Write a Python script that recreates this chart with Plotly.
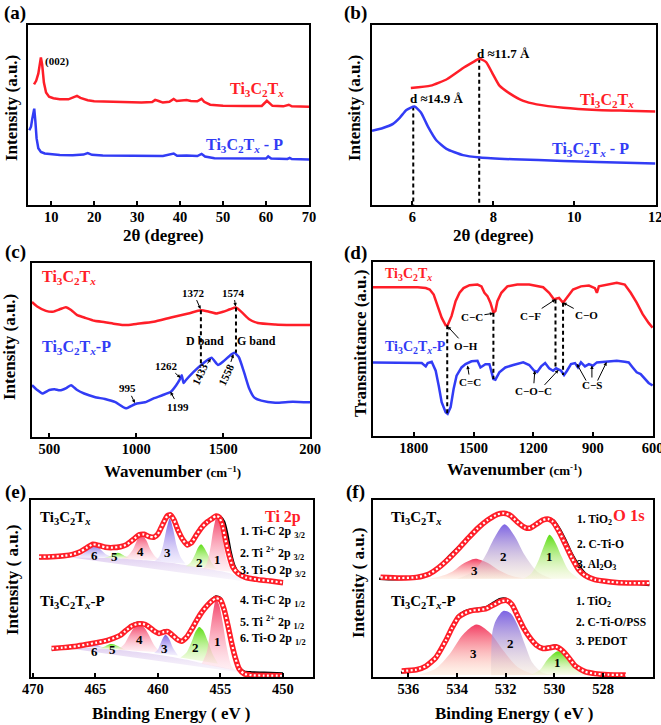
import plotly.graph_objects as go

W, H = 661, 725
FONT = "Liberation Serif"
RED = "rgb(255,30,40)"
BLUE = "rgb(50,60,245)"
TI = "Ti<sub>3</sub>C<sub>2</sub>T<sub><i>x</i></sub>"

# ---------------- (a) XRD, wide range: (2theta, intensity) ----------------
xrd_red = [(6.0, 67), (6.5, 69), (7.0, 73), (7.3, 78), (7.6, 82), (7.9, 78), (8.3, 68), (8.8, 62.5),
           (9.5, 60.2), (10.5, 59.3), (12, 58.8), (14, 58.7), (15.3, 59.8), (16.0, 60.6), (16.8, 59.5),
           (18.5, 58.2), (20, 57.7), (22, 57.5), (25, 57.3), (28, 57.2), (31, 57.0), (33.5, 57.2),
           (34.2, 58.4), (35, 57.8), (36, 56.9), (37.5, 57.3), (38.5, 58.9), (39.2, 57.8), (40, 58.1),
           (41.5, 58.3), (42.5, 57.8), (44, 57.6), (45, 59.0), (45.6, 57.3), (47, 55.7), (50, 55.2),
           (55, 55.0), (59, 55.0), (60.2, 57.9), (60.7, 57.0), (61.5, 55.1), (64, 54.8), (65.3, 55.7),
           (66, 54.8), (68, 54.6), (70, 54.6)]
xrd_blue = [(4.9, 41.5), (5.3, 43.5), (5.6, 48), (5.85, 53), (6.05, 53.5), (6.3, 47), (6.6, 37), (7.0, 31.5),
            (7.6, 29.5), (8.5, 28.6), (10, 28.1), (12, 27.8), (15, 27.7), (17.5, 28.0), (18.5, 28.9),
            (19.5, 27.9), (22, 27.5), (25, 27.4), (30, 27.1), (34, 27.0), (36, 27.2), (38.5, 28.6),
            (39.3, 27.3), (41.5, 27.5), (44, 27.2), (45, 28.4), (45.8, 26.9), (48, 26.0), (55, 25.7),
            (60, 25.8), (60.5, 27.0), (61.2, 25.8), (65, 25.6), (65.5, 26.2), (66, 25.5), (70, 25.3)]

# ---------------- (b) XRD, low angle ----------------
lowxrd_red = [(5.96, 65), (6.45, 66.3), (6.86, 70), (7.28, 76.5), (7.53, 79.8), (7.65, 81.3), (7.82, 79.4),
              (7.99, 72.6), (8.15, 66.3), (8.4, 62), (8.74, 57.8), (9.07, 55.9), (9.73, 54), (10.56, 52.8),
              (11.3, 52.4), (12, 52)]
lowxrd_blue = [(5.0, 41.2), (5.27, 42.8), (5.52, 45.1), (5.69, 48.6), (5.85, 52.8), (6.05, 54.7), (6.21, 51.4),
               (6.38, 43.7), (6.59, 36), (6.84, 31.2), (7.25, 27.7), (7.67, 26.4), (8.49, 25.4), (9.73, 24.5),
               (10.56, 23.9), (12, 23.1)]
d_peaks = [6.02, 7.65]           # 2theta of dashed guides
d_peak_tops = [54.7, 81.3]

# ---------------- (c) Raman ----------------
raman_red = [(400, 77.6), (430, 75), (480, 72.5), (520, 72), (560, 73.4), (595, 74.6), (625, 73), (660, 70),
             (700, 68.7), (760, 66.8), (820, 66), (880, 65), (940, 64.3), (1000, 65), (1100, 66.2),
             (1200, 68.7), (1300, 71), (1372, 72.9), (1420, 72), (1460, 71), (1500, 72), (1540, 73.4),
             (1574, 74.4), (1610, 71.5), (1650, 67.7), (1700, 65.5), (1800, 64.7), (1900, 64.4), (2000, 64.3)]
raman_blue = [(400, 29.8), (430, 27), (460, 25), (500, 27), (530, 27.5), (560, 26.8), (600, 28.3), (625, 29.8),
              (660, 27), (700, 25), (760, 23), (820, 21.8), (880, 20), (940, 16.5), (995, 19), (1050, 20),
              (1100, 22.2), (1150, 24), (1199, 26), (1230, 29.8), (1250, 33), (1262, 35.5), (1272, 31),
              (1285, 32.6), (1330, 37.4), (1380, 42), (1433, 45.5), (1470, 41.4), (1500, 43.4), (1540, 46.9),
              (1565, 48.4), (1590, 46), (1620, 37.4), (1650, 27.9), (1680, 22.6), (1720, 20.9), (1800, 19.7),
              (1900, 20.3), (2000, 19.9)]
raman_guides = [(1372, 72.9, 42.0), (1574, 74.4, 48.4)]

# ---------------- (d) FTIR ----------------
ftir_red = [(2005, 85.5), (1900, 85.5), (1780, 85.5), (1740, 85), (1720, 84.2), (1700, 81.3), (1680, 74.7),
            (1660, 68), (1640, 63.6), (1630, 63.6), (1610, 69), (1590, 77.5), (1570, 82.3), (1550, 85),
            (1520, 86.7), (1480, 87), (1460, 86), (1445, 82.3), (1430, 80.4), (1415, 76.6), (1400, 70.9),
            (1390, 71.8), (1380, 77.5), (1360, 82.3), (1330, 86), (1280, 87), (1220, 87), (1180, 86),
            (1150, 85.5), (1120, 82.3), (1095, 78.5), (1085, 78.9), (1070, 79.4), (1050, 76.6), (1030, 79.4),
            (1000, 84.2), (960, 86), (920, 86.5), (890, 85), (880, 82.3), (870, 86), (820, 87), (780, 88),
            (740, 87), (710, 82.3), (680, 76.6), (650, 70), (620, 65), (600, 62.3)]
ftir_blue = [(2005, 42.3), (1780, 42.3), (1760, 41.9), (1740, 40), (1730, 41.9), (1710, 42.7), (1690, 37.5),
             (1675, 29), (1660, 19.4), (1640, 13.7), (1630, 12.8), (1615, 16.6), (1600, 27), (1585, 34.7),
             (1560, 39.4), (1540, 41.3), (1510, 42.9), (1480, 43.2), (1465, 39.4), (1440, 41.3), (1420, 41.3),
             (1400, 32.8), (1390, 32.4), (1370, 36.6), (1340, 39.4), (1300, 40.8), (1250, 42.3), (1220, 40.8),
             (1195, 37.5), (1180, 36.8), (1160, 40), (1140, 41.9), (1120, 38.9), (1100, 37.5), (1085, 38.9),
             (1060, 37.5), (1045, 35), (1030, 37.5), (1010, 41.3), (990, 41.9), (975, 39.4), (960, 42.3),
             (940, 40), (920, 41.3), (900, 40.4), (880, 42.3), (840, 42.7), (780, 43.2), (740, 42.7),
             (720, 42.3), (700, 39.4), (680, 36.6), (660, 35.6), (640, 32.8), (620, 30.5), (600, 29)]
ftir_guides = [(1632, 63.6, 12.8), (1400, 70.9, 32.8), (1088, 78.5, 38.5), (1050, 76.6, 35.0)]

# ---------------- (e) XPS Ti 2p ----------------
ti_top_fit = [(469.5, 67.8), (468.5, 68.0), (467.5, 68.5), (466.8, 69.3), (466.2, 70.8), (465.7, 73.0),
              (465.2, 75.0), (464.7, 74.3), (464.2, 73.3), (463.6, 73.1), (463.0, 73.6), (462.5, 74.8),
              (462.0, 77.5), (461.5, 80.3), (461.1, 80.6), (460.7, 79.3), (460.3, 79.0), (460.0, 80.8),
              (459.6, 86.5), (459.25, 91.0), (459.0, 91.6), (458.7, 88.5), (458.4, 83.0), (458.0, 77.5),
              (457.65, 74.6), (457.3, 76.0), (456.9, 80.5), (456.5, 84.5), (456.1, 87.3), (455.7, 89.3),
              (455.35, 91.0), (455.1, 90.3), (454.85, 86.0), (454.6, 77.5), (454.3, 68.5), (454.0, 62.0),
              (453.6, 58.5), (453.0, 56.3), (452.0, 55.0), (451.0, 54.2), (450.0, 53.3)]
ti_top_exp = [(469.5, 67.2), (468.5, 67.6), (467.5, 68.3), (466.8, 69.2), (466.2, 71.0), (465.7, 73.4),
              (465.2, 75.4), (464.7, 74.6), (464.2, 73.6), (463.6, 73.5), (463.0, 74.0), (462.5, 75.3),
              (462.0, 78.2), (461.5, 80.8), (461.1, 80.9), (460.7, 79.8), (460.3, 79.4), (460.0, 81.2),
              (459.6, 87.2), (459.25, 91.4), (459.0, 91.9), (458.7, 89.0), (458.4, 83.8), (458.0, 78.0),
              (457.65, 75.2), (457.3, 76.6), (456.9, 81.2), (456.5, 85.3), (456.1, 88.0), (455.7, 89.8),
              (455.35, 91.3), (455.0, 90.6), (454.7, 87.5), (454.45, 80.5), (454.2, 71.0), (453.9, 63.0),
              (453.5, 58.2), (453.0, 56.0), (452.0, 54.6), (451.0, 53.9), (450.0, 53.0)]
ti_top_haze_up = [(466.8, 67.6), (465.0, 67.4), (463.0, 67.0), (461.5, 66.2), (460.0, 65.2), (458.5, 64.0),
                  (457.0, 62.3), (455.5, 60.5), (454.3, 58.8), (453.3, 55.8)]
ti_top_haze_lo = [(466.8, 67.4), (453.3, 54.2)]
ti_top_p6 = [(466.6, 67.8), (466.1, 69.0), (465.7, 71.5), (465.35, 74.2), (465.1, 75.0), (464.85, 74.2),
             (464.5, 71.5), (464.1, 69.0), (463.5, 67.2)]
ti_top_p5 = [(464.3, 67.2), (463.8, 68.3), (463.5, 69.4), (463.2, 70.2), (462.9, 69.4), (462.6, 68.2), (462.2, 66.9)]
ti_top_p4 = [(462.9, 66.8), (462.4, 68.5), (462.0, 72.0), (461.65, 77.5), (461.3, 80.7), (460.95, 77.5),
             (460.6, 72.0), (460.2, 68.0), (459.7, 65.8)]
ti_top_p3 = [(460.3, 65.3), (459.9, 68.0), (459.6, 74.0), (459.3, 84.0), (459.05, 89.7), (458.8, 84.0),
             (458.5, 74.0), (458.2, 68.0), (457.8, 64.0)]
ti_top_p2 = [(457.8, 62.5), (457.4, 64.5), (457.05, 69.0), (456.8, 73.0), (456.55, 75.0), (456.3, 73.0),
             (456.0, 69.0), (455.7, 64.5), (455.3, 61.0)]
ti_top_p1 = [(456.4, 61.0), (456.1, 64.0), (455.8, 73.0), (455.55, 84.0), (455.3, 90.6), (455.05, 86.0),
             (454.8, 77.0), (454.5, 66.0), (454.1, 59.5)]

ti_bot_fit = [(468.5, 16.1), (467.6, 16.6), (466.5, 17.4), (465.6, 18.5), (464.9, 19.4), (464.1, 20.6),
              (463.5, 22.0), (463.0, 23.6), (462.6, 26.0), (462.1, 28.7), (461.6, 30.0), (461.2, 30.0),
              (460.8, 28.8), (460.3, 26.0), (459.9, 24.6), (459.5, 25.5), (459.2, 25.6), (458.9, 24.0),
              (458.5, 21.5), (458.1, 20.2), (457.7, 22.5), (457.3, 27.0), (456.9, 32.0), (456.5, 36.5),
              (456.1, 40.0), (455.7, 42.8), (455.35, 44.5), (455.0, 43.5), (454.7, 38.0), (454.4, 29.0),
              (454.1, 19.0), (453.8, 10.5), (453.5, 4.5), (453.1, 1.8), (452.5, 1.0), (451.5, 0.8), (450.0, 0.7)]
ti_bot_exp = [(468.5, 15.6), (467.6, 16.2), (466.5, 17.2), (465.6, 18.6), (464.9, 19.8), (464.1, 21.0),
              (463.5, 22.4), (463.0, 24.1), (462.6, 26.6), (462.1, 29.3), (461.6, 30.6), (461.2, 30.4),
              (460.8, 29.2), (460.3, 26.3), (459.9, 25.0), (459.5, 26.1), (459.2, 26.0), (458.9, 24.3),
              (458.5, 21.7), (458.1, 20.6), (457.7, 23.0), (457.3, 27.6), (456.9, 32.6), (456.5, 37.2),
              (456.1, 40.8), (455.7, 43.8), (455.35, 45.5), (455.0, 44.6), (454.7, 39.5), (454.4, 30.5),
              (454.1, 20.0), (453.8, 11.0), (453.5, 5.5), (453.1, 3.0), (452.5, 2.6), (451.5, 2.4), (450.0, 2.0)]
ti_bot_haze_up = [(467.2, 16.6), (465.0, 16.3), (463.0, 15.2), (461.0, 13.5), (459.0, 11.5), (457.5, 9.5),
                  (456.0, 7.0), (454.5, 5.0), (453.7, 3.8)]
ti_bot_haze_lo = [(467.2, 16.3), (453.7, 2.8)]
ti_bot_p6 = [(466.5, 17.0), (466.0, 17.6), (465.6, 18.3), (465.3, 18.8), (465.0, 18.3), (464.6, 17.3), (464.1, 16.3)]
ti_bot_p5 = [(464.6, 16.3), (464.2, 17.4), (463.8, 18.6), (463.4, 18.1), (463.0, 16.8), (462.6, 15.3)]
ti_bot_p4 = [(463.2, 15.5), (462.7, 18.5), (462.3, 23.5), (461.9, 28.0), (461.5, 29.6), (461.1, 28.0),
             (460.7, 23.5), (460.3, 18.0), (459.8, 13.8)]
ti_bot_p3 = [(460.3, 13.5), (460.0, 15.5), (459.7, 20.5), (459.4, 23.8), (459.1, 21.5), (458.8, 16.5), (458.4, 12.2)]
ti_bot_p2 = [(458.2, 11.0), (457.7, 14.0), (457.3, 20.0), (457.0, 25.5), (456.7, 28.3), (456.4, 26.5),
             (456.0, 20.0), (455.6, 12.5), (455.2, 7.5)]
ti_bot_p1 = [(456.5, 7.5), (456.1, 14.0), (455.8, 27.0), (455.55, 38.5), (455.35, 44.0), (455.1, 40.5),
             (454.8, 30.0), (454.5, 17.0), (454.1, 6.0), (453.7, 3.5)]

# ---------------- (f) XPS O 1s ----------------
o_top_fit = [(537.14, 56.3), (536.34, 55.9), (535.67, 56.3), (535.14, 58.2), (534.74, 61.9), (534.34, 66.8),
             (533.94, 72.4), (533.54, 78.4), (533.14, 84.1), (532.74, 88.7), (532.34, 91.9), (532.07, 92.5),
             (531.8, 91.2), (531.54, 87.8), (531.2, 84.4), (531.0, 84.1), (530.74, 86.3), (530.47, 88.7),
             (530.27, 89.3), (530.07, 87.8), (529.81, 82.2), (529.54, 74.7), (529.28, 67.2), (529.0, 60.6),
             (528.74, 57.4), (528.34, 55.0), (527.67, 53.7), (527.0, 53.1), (526.1, 53.1)]
o_top_exp = [(537.2, 55.5), (536.6, 55.2), (536.0, 55.6), (535.5, 56.8), (535.1, 58.8), (534.7, 62.8),
             (534.3, 68.5), (533.9, 74.0), (533.5, 79.5), (533.1, 85.0), (532.7, 89.5), (532.3, 92.5),
             (532.05, 93.0), (531.8, 91.5), (531.5, 87.5), (531.2, 84.8), (531.0, 84.6), (530.75, 86.8),
             (530.45, 89.2), (530.25, 89.6), (530.05, 88.5), (529.8, 84.0), (529.55, 77.5), (529.3, 70.0),
             (529.0, 63.0), (528.7, 58.0), (528.3, 55.2), (527.7, 53.8), (527.0, 53.0), (526.5, 52.5), (526.1, 52.0)]
o_top_p3 = [(535.3, 55.3), (534.7, 56.8), (534.2, 59.5), (533.75, 64.0), (533.25, 66.8), (532.75, 64.5),
            (532.3, 60.5), (531.8, 57.3), (531.2, 55.5)]
o_top_p2 = [(534.0, 55.5), (533.4, 59.0), (532.9, 67.0), (532.45, 79.0), (532.05, 86.3), (531.65, 80.0),
            (531.2, 68.5), (530.7, 59.5), (530.1, 55.5)]
o_top_p1 = [(531.3, 55.3), (530.95, 58.5), (530.65, 66.0), (530.4, 75.0), (530.2, 80.3), (530.0, 77.0),
            (529.7, 68.0), (529.4, 60.0), (529.0, 55.5)]

o_bot_fit = [(536.27, 3.4), (535.67, 4.1), (535.27, 6.2), (534.87, 10.9), (534.47, 20.3), (534.2, 27.8),
             (533.94, 33.8), (533.67, 36.2), (533.4, 37.5), (533.14, 37.9), (532.8, 38.6), (532.47, 40.9),
             (532.2, 42.8), (531.94, 43.2), (531.74, 40.9), (531.54, 35.3), (531.27, 27.8), (531.0, 22.1),
             (530.74, 18.0), (530.47, 16.1), (530.2, 16.5), (529.94, 17.1), (529.68, 15.0), (529.41, 10.9),
             (529.14, 6.2), (528.74, 3.0), (528.34, 1.9), (527.8, 1.3), (527.07, 1.1)]
o_bot_exp = [(536.3, 2.5), (535.7, 3.6), (535.3, 6.0), (534.9, 11.0), (534.5, 20.5), (534.2, 28.5),
             (533.95, 34.5), (533.7, 37.0), (533.4, 38.2), (533.15, 38.6), (532.8, 39.5), (532.5, 42.0),
             (532.25, 44.0), (532.0, 44.2), (531.75, 41.5), (531.55, 35.8), (531.3, 28.2), (531.0, 22.5),
             (530.75, 18.5), (530.5, 16.8), (530.2, 17.2), (529.95, 17.8), (529.7, 15.5), (529.4, 11.2),
             (529.15, 6.5), (528.75, 3.2), (528.3, 2.0), (527.8, 1.5), (527.1, 1.3)]
o_bot_p3 = [(535.6, 1.2), (534.9, 4.5), (534.3, 13.0), (533.75, 24.0), (533.2, 29.6), (532.65, 25.0),
            (532.1, 15.0), (531.5, 5.5), (530.8, 1.2)]
o_bot_p2 = [(532.6, 1.0), (532.55, 25.0), (532.4, 32.0), (532.1, 37.3), (531.8, 36.0), (531.5, 29.0),
            (531.2, 18.0), (530.9, 8.0), (530.5, 2.5), (530.0, 1.0)]
o_bot_p1 = [(531.0, 1.2), (530.6, 4.0), (530.25, 10.5), (529.85, 14.6), (529.45, 11.0), (529.1, 5.0), (528.6, 1.2)]

# ---------------- figure ----------------
fig = go.Figure()
ann = []

PINK = "rgb(243,62,100)"
PURPLE = "rgb(125,100,228)"
GREEN = "rgb(92,222,20)"


def names(i):
    return ("x", "y") if i == 1 else (f"x{i}", f"y{i}")


def unzip(pts):
    return [p[0] for p in pts], [p[1] for p in pts]


def curve(i, pts, color, width, shape="spline", smoothing=0.5, dash=None):
    xa, ya = names(i)
    x, y = unzip(pts)
    fig.add_trace(go.Scatter(x=x, y=y, xaxis=xa, yaxis=ya, mode="lines",
                             line=dict(color=color, width=width, shape=shape, smoothing=smoothing, dash=dash),
                             hoverinfo="skip", showlegend=False))


def guide(i, x, ytop, ybot):
    xa, ya = names(i)
    fig.add_trace(go.Scatter(x=[x, x], y=[ytop, ybot], xaxis=xa, yaxis=ya, mode="lines",
                             line=dict(color="black", width=2, dash="4px,3px"),
                             hoverinfo="skip", showlegend=False))


def band(i, upper, lower, c_top, c_bot):
    xa, ya = names(i)
    lx, ly = unzip(lower)
    ux, uy = unzip(upper)
    fig.add_trace(go.Scatter(x=lx, y=ly, xaxis=xa, yaxis=ya, mode="lines", line=dict(width=0),
                             hoverinfo="skip", showlegend=False))
    fig.add_trace(go.Scatter(x=ux, y=uy, xaxis=xa, yaxis=ya, mode="lines",
                             line=dict(width=0, shape="spline", smoothing=0.8), fill="tonexty",
                             fillgradient=dict(type="vertical", colorscale=[[0, c_bot], [1, c_top]]),
                             hoverinfo="skip", showlegend=False))


def peak(i, pts, color, c_bot):
    band(i, pts, [pts[0], pts[-1]], color, c_bot)


def fit(i, pts):
    curve(i, pts, RED, 5.5)
    curve(i, pts, "white", 2.2, dash="2px,2.4px")


def txt(i, x, y, s, size, color="black", xanchor="center", angle=0):
    xa, ya = names(i)
    ann.append(dict(x=x, y=y, xref=xa, yref=ya, text=s, showarrow=False, xanchor=xanchor, yanchor="middle",
                    textangle=angle, font=dict(family=FONT, size=size, color=color, weight="bold")))


def arrow(i, x, y, ax, ay, s="", size=11, angle=0):
    xa, ya = names(i)
    ann.append(dict(x=x, y=y, ax=ax, ay=ay, xref=xa, yref=ya, axref=xa, ayref=ya, text=s, showarrow=True,
                    arrowhead=2, arrowsize=0.7, arrowwidth=1, arrowcolor="black", textangle=angle,
                    font=dict(family=FONT, size=size, color="black", weight="bold")))


def ptxt(px, py, s, size, angle=0):
    ann.append(dict(x=px / W, y=1 - py / H, xref="paper", yref="paper", text=s, showarrow=False,
                    xanchor="center", yanchor="middle", textangle=angle,
                    font=dict(family=FONT, size=size, color="black", weight="bold")))


# (a)
curve(1, xrd_red, RED, 2.5, shape="linear")
curve(1, xrd_blue, BLUE, 2.5, shape="linear")
txt(1, 8.1, 79.5, "(002)", 11, xanchor="left")
txt(1, 58, 64, TI, 16, RED)
txt(1, 55, 33, TI + " - P", 16, BLUE)

# (b)
for x, yt in zip(d_peaks, d_peak_tops):
    guide(2, x, yt, 0)
curve(2, lowxrd_red, RED, 2.5)
curve(2, lowxrd_blue, BLUE, 2.5)
txt(2, 6.6, 59, "d ≈14.9 Å", 13)
txt(2, 8.25, 84, "d ≈11.7 Å", 13)
txt(2, 10.82, 58.2, TI, 16, RED)
txt(2, 10.39, 30.8, TI + " - P", 16, BLUE)

# (c)
curve(3, raman_red, RED, 2.5)
curve(3, raman_blue, BLUE, 2.5)
for x, yt, yb in raman_guides:
    guide(3, x, yt, yb)
txt(3, 448, 91.5, TI, 16, RED, xanchor="left")
txt(3, 448, 51.6, TI + "-P", 16, BLUE, xanchor="left")
arrow(3, 1370, 73.5, 1329, 83, "1372")
arrow(3, 1572, 75, 1559, 83, "1574")
txt(3, 1398, 55.4, "D band", 12)
txt(3, 1693, 55.4, "G band", 12)
arrow(3, 1255, 34, 1176, 41, "1262")
arrow(3, 992, 19.5, 952, 28, "995")
arrow(3, 1197, 26, 1243, 17.5, "1199")
arrow(3, 1429, 45, 1368, 36, "1433", angle=-65)
arrow(3, 1559, 47.5, 1521, 36, "1558", angle=-65)

# (d)
curve(4, ftir_red, RED, 2.5, shape="linear")
curve(4, ftir_blue, BLUE, 2.5, shape="linear")
for x, yt, yb in ftir_guides:
    guide(4, x, yt, yb)
txt(4, 1955, 92.8, TI, 14, RED, xanchor="left")
txt(4, 1955, 50.9, TI + "-P", 14, BLUE, xanchor="left")
arrow(4, 1630, 63, 1540, 51.8, "O−H")
arrow(4, 1400, 70.5, 1508, 68.6, "C−C")
arrow(4, 1088, 78.5, 1215, 69, "C−F")
arrow(4, 1050, 76.6, 931, 69.3, "C−O")
arrow(4, 1530, 40.5, 1517, 31, "C=C")
arrow(4, 1192, 37.5, 1199, 26, "C−O−C")
arrow(4, 1073, 38, 1150, 28.5, "")
arrow(4, 905, 40.5, 905, 29.3, "C−S")
arrow(4, 981, 41.5, 930, 31, "")
arrow(4, 831, 42.5, 880, 31, "")

# (e)
band(5, ti_top_haze_up, ti_top_haze_lo, "rgba(200,170,230,0.55)", "rgba(235,225,245,0.3)")
peak(5, ti_top_p6, PURPLE, "rgba(225,215,250,0.4)")
peak(5, ti_top_p5, GREEN, "rgba(235,250,200,0.4)")
peak(5, ti_top_p4, PINK, "rgba(255,220,230,0.4)")
peak(5, ti_top_p3, PURPLE, "rgba(225,215,250,0.4)")
peak(5, ti_top_p2, GREEN, "rgba(235,250,200,0.4)")
peak(5, ti_top_p1, PINK, "rgba(255,220,230,0.4)")
band(5, ti_bot_haze_up, ti_bot_haze_lo, "rgba(200,170,230,0.55)", "rgba(235,225,245,0.3)")
peak(5, ti_bot_p6, PURPLE, "rgba(225,215,250,0.4)")
peak(5, ti_bot_p5, GREEN, "rgba(235,250,200,0.4)")
peak(5, ti_bot_p4, PINK, "rgba(255,220,230,0.4)")
peak(5, ti_bot_p3, PURPLE, "rgba(225,215,250,0.4)")
peak(5, ti_bot_p2, GREEN, "rgba(235,250,200,0.4)")
peak(5, ti_bot_p1, PINK, "rgba(255,220,230,0.4)")
curve(5, ti_top_exp, "black", 2.5)
curve(5, ti_bot_exp, "black", 2.5)
fit(5, ti_top_fit)
fit(5, ti_bot_fit)
for x, y, s in [(455.2, 66.2, "1"), (456.7, 64.9, "2"), (459.2, 70.4, "3"), (461.4, 70.9, "4"),
                (463.5, 68.1, "5"), (465.1, 68.7, "6"), (455.2, 20.3, "1"), (457.0, 16.9, "2"),
                (459.5, 16.1, "3"), (461.5, 21.2, "4"), (463.6, 15.6, "5"), (465.1, 14.6, "6")]:
    txt(5, x, y, s, 13)
txt(5, 469.6, 89.7, TI, 15, xanchor="left")
txt(5, 469.6, 42.4, TI + "-P", 15, xanchor="left")
txt(5, 450.0, 90.6, "Ti 2p", 16, RED)
for y, s in [(82.2, "1. Ti-C 2p <sub>3/2</sub>"), (70.0, "2. Ti <sup>2+</sup> 2p <sub>3/2</sub>"),
             (60.0, "3. Ti-O 2p <sub>3/2</sub>"), (42.8, "4. Ti-C 2p <sub>1/2</sub>"),
             (30.6, "5. Ti <sup>2+</sup> 2p <sub>1/2</sub>"), (21.2, "6. Ti-O 2p <sub>1/2</sub>")]:
    txt(5, 453.6, y, s, 12, xanchor="left")

# (f)
peak(6, o_top_p3, PINK, "rgba(255,225,200,0.35)")
peak(6, o_top_p2, PURPLE, "rgba(240,220,200,0.35)")
peak(6, o_top_p1, GREEN, "rgba(240,245,200,0.35)")
peak(6, o_bot_p3, PINK, "rgba(255,225,200,0.35)")
peak(6, o_bot_p2, PURPLE, "rgba(240,220,200,0.35)")
peak(6, o_bot_p1, GREEN, "rgba(240,245,200,0.35)")
curve(6, o_top_exp, "black", 2.5)
curve(6, o_bot_exp, "black", 2.5)
fit(6, o_top_fit)
fit(6, o_bot_fit)
for x, y, s in [(530.2, 68.1, "1"), (532.07, 68.1, "2"), (533.3, 60.0, "3"),
                (529.87, 8.1, "1"), (531.8, 18.8, "2"), (533.34, 13.1, "3")]:
    txt(6, x, y, s, 13)
txt(6, 536.8, 89.7, TI, 15, xanchor="left")
txt(6, 536.8, 42.4, TI + "-P", 15, xanchor="left")
txt(6, 526.2, 91.2, "O 1s", 16.5, RED, xanchor="right")
for y, s in [(88.7, "1. TiO<sub>2</sub>"), (75.0, "2. C-Ti-O"), (63.4, "3. Al<sub>2</sub>O<sub>3</sub>")]:
    txt(6, 529.15, y, s, 11.5, xanchor="left")
for y, s in [(42.4, "1. TiO<sub>2</sub>"), (31.1, "2. C-Ti-O/PSS"), (20.3, "3. PEDOT")]:
    txt(6, 529.2, y, s, 11.5, xanchor="left")

# axes
PANELS = [
    (1, (28, 309), (25, 205), [4.6, 70], [10, 20, 30, 40, 50, 60, 70], None),
    (2, (372, 656), (25, 205), [5, 12.02], [6, 8, 10, 12], None),
    (3, (32, 310), (263, 437), [400, 2000], [500, 1000, 1500, 2000], ["500", "1000", "1500", "200"]),
    (4, (373, 653), (262, 436), [2005, 598], [1800, 1500, 1200, 900, 600], None),
    (5, (31, 313), (500, 677), [470.15, 447.6], [470, 465, 460, 455, 450], None),
    (6, (373, 653), (500, 677), [537.45, 525.95], [536, 534, 532, 530, 528], None),
]
layout = {}
for i, pxr, pyr, xr, tv, tt in PANELS:
    xa, ya = names(i)
    xk = "xaxis" if i == 1 else f"xaxis{i}"
    yk = "yaxis" if i == 1 else f"yaxis{i}"
    layout[xk] = dict(domain=[pxr[0] / W, pxr[1] / W], range=xr, anchor=ya, tickvals=tv,
                      ticktext=tt if tt else [str(v) for v in tv], showline=True, linecolor="black",
                      linewidth=2, mirror=True, ticks="inside", ticklen=4, tickwidth=2, tickcolor="black",
                      showgrid=False, zeroline=False, automargin=False, ticklabelstandoff=-2,
                      ticklabeloverflow="allow",
                      tickfont=dict(family=FONT, size=14.5, color="black", weight="bold"))
    layout[yk] = dict(domain=[1 - pyr[1] / H, 1 - pyr[0] / H], range=[0, 100], anchor=xa, showline=True,
                      linecolor="black", linewidth=2, mirror=True, ticks="", showticklabels=False,
                      showgrid=False, zeroline=False, automargin=False)

# axis titles and panel labels
ptxt(12, 108, "Intensity (a.u.)", 17, -90)
ptxt(355, 108, "Intensity (a.u.)", 17, -90)
ptxt(10, 347, "Intensity (a.u.)", 17, -90)
ptxt(360, 344, "Transmittance (a.u.)", 17, -90)
ptxt(12, 580, "Intensity ( a.u.)", 17, -90)
ptxt(358, 583, "Intensity ( a.u.)", 17, -90)
ptxt(163, 235, "2θ (degree)", 17)
ptxt(493, 235, "2θ (degree)", 17)
ptxt(172, 472, "Wavenumber <span style='font-size:13px'>(cm<sup>−1</sup>)</span>", 17)
ptxt(514, 469, "Wavenumber <span style='font-size:13px'>(cm<sup>-1</sup>)</span>", 17)
ptxt(171, 713, "Binding Energy ( eV )", 17)
ptxt(514, 713, "Binding Energy ( eV )", 17)
ptxt(15, 13, "(a)", 19)
ptxt(355, 13, "(b)", 19)
ptxt(15, 252, "(c)", 19)
ptxt(355, 253, "(d)", 19)
ptxt(15, 492, "(e)", 19)
ptxt(355, 492, "(f)", 19)

fig.update_layout(width=W, height=H, margin=dict(l=0, r=0, t=0, b=0), paper_bgcolor="white",
                  plot_bgcolor="white", showlegend=False, annotations=ann, template="none", **layout)
fig.write_html("out.html", config={"displayModeBar": False},
               post_script="document.body.style.margin='0';document.body.style.padding='0';"
                           "document.body.style.overflow='hidden';")
